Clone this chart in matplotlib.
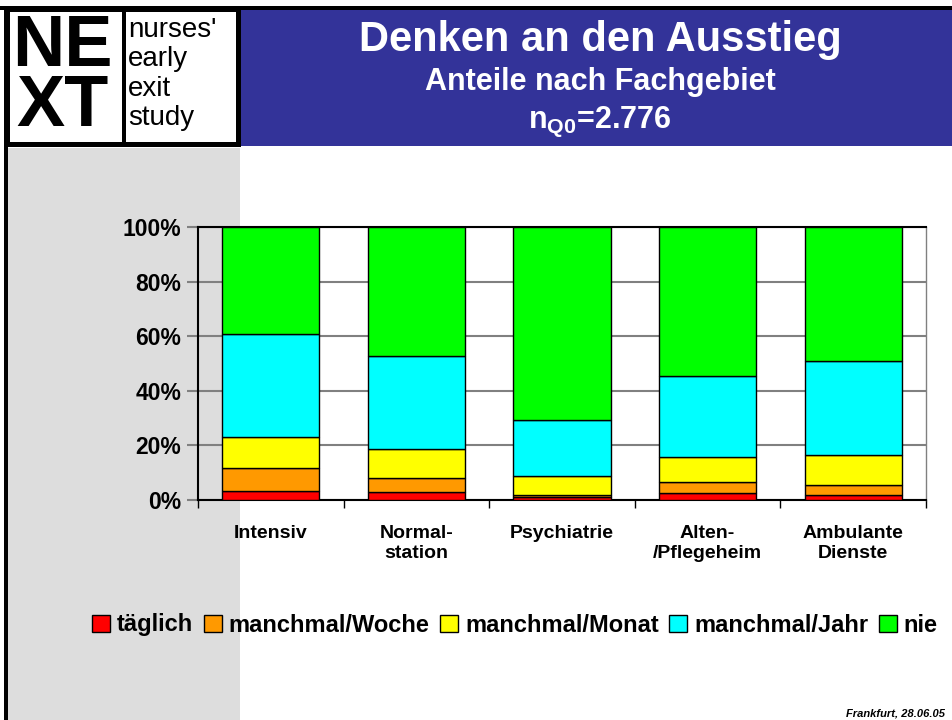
import numpy as np
import matplotlib
matplotlib.use('Agg')
import matplotlib.pyplot as plt
from matplotlib.patches import Rectangle

plt.rcParams['font.family'] = ['Liberation Sans', 'DejaVu Sans']
plt.rcParams['mathtext.fontset'] = 'custom'
plt.rcParams['mathtext.rm'] = 'Liberation Sans:bold'
plt.rcParams['mathtext.bf'] = 'Liberation Sans:bold'

# data (percent shares per field)
categories = ['Intensiv', 'Normal-\nstation', 'Psychiatrie', 'Alten-\n/Pflegeheim', 'Ambulante\nDienste']
series_names = ['täglich', 'manchmal/Woche', 'manchmal/Monat', 'manchmal/Jahr', 'nie']
taeglich = [3.4, 2.8, 1.0, 2.7, 2.0]
woche = [8.2, 5.4, 0.9, 4.0, 3.6]
monat = [11.4, 10.6, 7.0, 8.9, 11.0]
jahr = [37.9, 34.1, 20.5, 30.0, 34.2]
nie = [39.1, 47.1, 70.6, 54.4, 49.2]
colors = ['#FF0000', '#FF9900', '#FFFF00', '#00FFFF', '#00FF00']
yticks = [0, 20, 40, 60, 80, 100]

W, H = 952, 720
fig = plt.figure(figsize=(9.52, 7.2), dpi=100)

def px(x0, y0, x1, y1, **kw):
    # rectangle in pixel coords (top-left origin)
    r = Rectangle((x0 / W, 1 - y1 / H), (x1 - x0) / W, (y1 - y0) / H,
                  transform=fig.transFigure, **kw)
    fig.patches.append(r)

# background decoration
px(8, 148, 240, 720, color='#DDDDDD', lw=0, zorder=0)
px(240, 9, 952, 146, color='#333399', lw=0, zorder=0)
px(0, 6, 952, 10, color='black', lw=0, zorder=1)
px(4, 6, 7.5, 720, color='black', lw=0, zorder=1)
px(5, 7, 241, 147, color='black', lw=0, zorder=1)
px(10, 12, 122, 142, color='white', lw=0, zorder=2)
px(126, 12, 236, 142, color='white', lw=0, zorder=2)

# logo
fig.text(62 / W, 1 - 77 / H, 'NE\nXT', fontsize=52, fontweight='bold', ha='center', va='center',
         multialignment='center', linespacing=0.86)
fig.text(128 / W, 1 - 74 / H, "nurses'\nearly\nexit\nstudy", fontsize=20, ha='left', va='center',
         linespacing=1.18)

# titles
fig.text(600 / W, 1 - 40 / H, 'Denken an den Ausstieg', fontsize=30, fontweight='bold',
         color='white', ha='center', va='center')
fig.text(600 / W, 1 - 82 / H, 'Anteile nach Fachgebiet', fontsize=22, fontweight='bold',
         color='white', ha='center', va='center')
fig.text(600 / W, 1 - 122 / H, r'n$_{\mathbf{Q0}}$=2.776', fontsize=22, fontweight='bold',
         color='white', ha='center', va='center')

# chart
ax = fig.add_axes([198 / W, 1 - 500 / H, (926 - 198) / W, (500 - 227) / H])
ax.set_zorder(5)
ax.patch.set_alpha(0)
x = np.arange(len(categories))
bottom = np.zeros(len(categories))
for name, vals, c in zip(series_names, [taeglich, woche, monat, jahr, nie], colors):
    ax.bar(x, vals, width=0.667, bottom=bottom, color=c, edgecolor='black',
           linewidth=1, label=name, zorder=3)
    bottom += np.array(vals)

ax.set_xlim(-0.5, 4.5)
ax.set_ylim(0, 100)
ax.set_yticks(yticks)
ax.set_yticklabels([f'{v}%' for v in yticks], fontsize=16.5, fontweight='bold')
ax.yaxis.grid(True, color='#808080', linewidth=1.5, zorder=1)
ax.set_axisbelow(True)
ax.tick_params(axis='y', direction='out', length=8, width=1.5, color='#808080', pad=4)

ax.set_xticks(np.arange(-0.5, 5, 1))
ax.set_xticklabels([])
ax.set_xticks(x, minor=True)
ax.set_xticklabels(categories, minor=True, fontsize=14, fontweight='bold')
ax.tick_params(axis='x', which='major', direction='out', length=6, width=1, color='black')
ax.tick_params(axis='x', which='minor', length=0, pad=18)
for side in ['left', 'bottom', 'top']:
    ax.spines[side].set_color('black')
    ax.spines[side].set_linewidth(1.5)
ax.spines['right'].set_color('#808080')
ax.spines['right'].set_linewidth(1)

leg = fig.legend(loc='center', bbox_to_anchor=(515 / W, 1 - 625 / H), ncol=5, frameon=False,
                 prop={'size': 17, 'weight': 'bold'}, handlelength=0.75, handleheight=0.75,
                 handletextpad=0.3, columnspacing=0.45, borderaxespad=0)
leg.set_zorder(6)

fig.text(945 / W, 1 - 713 / H, 'Frankfurt, 28.06.05', fontsize=8, fontweight='bold',
         fontstyle='italic', ha='right', va='center')

plt.savefig('out.png', dpi=100)
